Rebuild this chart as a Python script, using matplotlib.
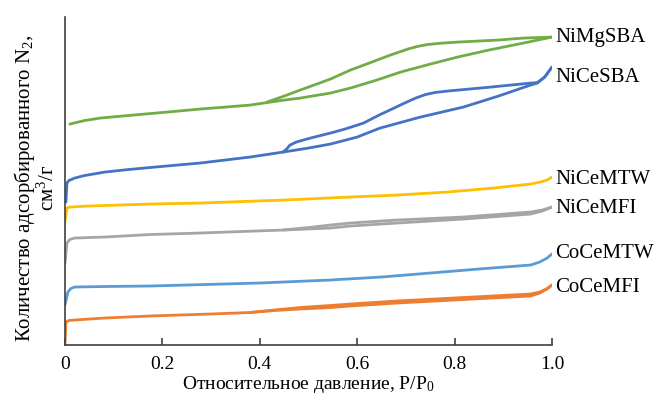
import matplotlib
matplotlib.use("Agg")
import matplotlib.pyplot as plt

plt.rcParams["font.family"] = ["Liberation Serif", "DejaVu Serif"]
plt.rcParams["mathtext.fontset"] = "custom"
plt.rcParams["mathtext.rm"] = "Liberation Serif"
plt.rcParams["mathtext.it"] = "Liberation Serif:italic"
plt.rcParams["mathtext.bf"] = "Liberation Serif:bold"

# N2 isotherms (stacked, arbitrary offset units): adsorption and desorption branches
nimgsba_p_ads = [0.01, 0.04, 0.072, 0.14, 0.21, 0.277, 0.33, 0.38, 0.415, 0.45, 0.483, 0.545,
                 0.586, 0.64, 0.689, 0.75, 0.806, 0.87, 0.941, 1.0]
nimgsba_v_ads = [221, 224.5, 227, 230, 233, 236, 238, 240, 242.5, 245, 247, 252,
                 257, 265, 273, 281, 288, 295, 302, 308]
nimgsba_p_des = [1.0, 0.941, 0.888, 0.806, 0.77, 0.745, 0.725, 0.705, 0.689, 0.668, 0.63, 0.586,
                 0.545, 0.483, 0.45, 0.415]
nimgsba_v_des = [308, 307, 305, 303, 301.8, 300.6, 298.8, 296.2, 293.5, 290, 283, 275,
                 266, 255, 249, 243]

nicesba_p_ads = [0.002, 0.004, 0.008, 0.02, 0.04, 0.082, 0.13, 0.185, 0.277, 0.38, 0.448,
                 0.5, 0.545, 0.6, 0.647, 0.73, 0.818, 0.89, 0.956, 0.97, 0.985, 1.0]
nicesba_v_ads = [143, 162, 164.5, 167, 169.5, 173, 175.5, 178, 182, 188, 193,
                 197, 201, 208, 217, 228, 238, 249, 260, 262, 268, 278]
nicesba_p_des = [1.0, 0.985, 0.97, 0.956, 0.874, 0.785, 0.76, 0.74, 0.72, 0.695, 0.68, 0.645,
                 0.613, 0.575, 0.545, 0.504, 0.475, 0.462, 0.455, 0.448]
nicesba_v_des = [278, 268, 262.5, 262, 258, 254, 252.6, 250.5, 247, 241.5, 238, 230,
                 222, 216, 212, 207, 203, 200, 196, 193]

nicemtw_p = [0.0, 0.004, 0.01, 0.047, 0.175, 0.277, 0.45, 0.586, 0.682, 0.785, 0.88, 0.956, 0.976, 0.99, 1.0]
nicemtw_v = [123, 137, 138, 139, 141, 142, 145, 148, 150, 153, 157, 161, 163, 165, 168]

nicemfi_p_ads = [0.0, 0.004, 0.01, 0.02, 0.082, 0.175, 0.277, 0.448, 0.545, 0.586, 0.682, 0.818,
                 0.956, 0.98, 1.0]
nicemfi_v_ads = [82, 102, 105.5, 107, 108, 110.5, 112, 115, 117, 119, 122, 126,
                 131, 134, 138]
nicemfi_p_des = [1.0, 0.98, 0.956, 0.818, 0.682, 0.586, 0.545, 0.5, 0.448]
nicemfi_v_des = [138, 135, 133, 128, 125, 122, 120, 117.5, 115]

cocemtw_p = [0.0, 0.006, 0.012, 0.02, 0.082, 0.175, 0.288, 0.4, 0.545, 0.65, 0.75, 0.85,
             0.956, 0.975, 0.99, 1.0]
cocemtw_v = [40, 53, 56.5, 58, 58.5, 59, 60.5, 62, 65, 68, 72, 76,
             80, 83, 87, 91]

cocemfi_p_ads = [0.0, 0.002, 0.008, 0.02, 0.082, 0.175, 0.3, 0.38, 0.43, 0.483, 0.545, 0.586, 0.682,
                 0.956, 0.975, 0.99, 1.0]
cocemfi_v_ads = [0, 23, 24.5, 25, 27, 29, 31, 32.5, 34.5, 36, 37.5, 39, 42,
                 49, 52, 56, 60]
cocemfi_p_des = [1.0, 0.99, 0.975, 0.956, 0.682, 0.586, 0.545, 0.483, 0.43, 0.38]
cocemfi_v_des = [60, 56.5, 53, 51, 44, 41, 39.5, 37.5, 35, 32.5]

sample_names = ["NiMgSBA", "NiCeSBA", "NiCeMTW", "NiCeMFI", "CoCeMTW", "CoCeMFI"]
label_levels = [308, 268, 166, 137, 92, 58]
colors = ["#70AD47", "#4472C4", "#FFC000", "#A5A5A5", "#5B9BD5", "#ED7D31"]

x_ticks = [0, 0.2, 0.4, 0.6, 0.8, 1.0]
x_tick_labels = ["0", "0.2", "0.4", "0.6", "0.8", "1.0"]

fig = plt.figure(figsize=(6.55, 3.96), dpi=100)
ax = fig.add_axes([0.0992, 0.1288, 0.7435, 0.828])

curves = [
    [(nimgsba_p_ads, nimgsba_v_ads), (nimgsba_p_des, nimgsba_v_des)],
    [(nicesba_p_ads, nicesba_v_ads), (nicesba_p_des, nicesba_v_des)],
    [(nicemtw_p, nicemtw_v)],
    [(nicemfi_p_ads, nicemfi_v_ads), (nicemfi_p_des, nicemfi_v_des)],
    [(cocemtw_p, cocemtw_v)],
    [(cocemfi_p_ads, cocemfi_v_ads), (cocemfi_p_des, cocemfi_v_des)],
]

for branches, color, name, level in zip(curves, colors, sample_names, label_levels):
    for p, v in branches:
        ax.plot(p, v, color=color, lw=2.0, solid_capstyle="round", solid_joinstyle="round")
    ax.text(1.006, level, name, fontsize=15, ha="left", va="center", clip_on=False)

ax.set_xlim(0, 1.0)
ax.set_ylim(0, 328)
ax.set_xticks(x_ticks)
ax.set_xticklabels(x_tick_labels, fontsize=14)
ax.set_yticks([])
ax.tick_params(axis="x", direction="in", length=5, width=1.2, color="#404040", pad=8)
for side in ("top", "right"):
    ax.spines[side].set_visible(False)
for side in ("left", "bottom"):
    ax.spines[side].set_color("#404040")
    ax.spines[side].set_linewidth(1.2)

ax.set_xlabel("Относительное давление, P/P$_0$", fontsize=14, labelpad=1)
fig.text(0.054, 0.525, "Количество адсорбированного N$_2$,\nсм$^3$/г",
         rotation=90, ha="center", va="center", multialignment="center",
         fontsize=15, linespacing=1.0)

fig.savefig("out.png", dpi=100)
